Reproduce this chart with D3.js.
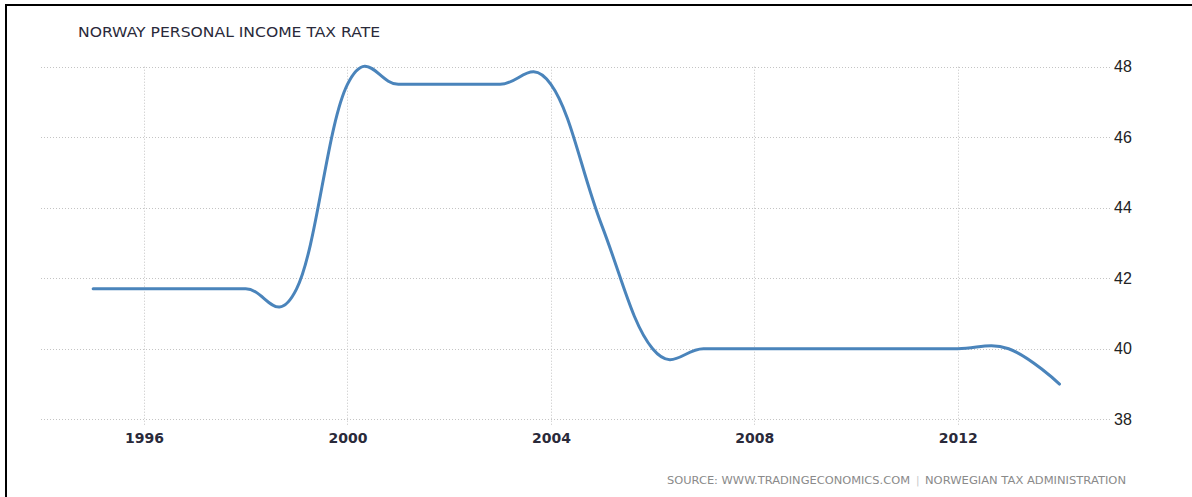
<!DOCTYPE html>
<html>
<head>
<meta charset="utf-8">
<script src="https://cdn.jsdelivr.net/npm/d3@7"></script>
<style>
  html, body { margin: 0; padding: 0; background: #fff; }
  svg { display: block; }
</style>
</head>
<body>
<svg id="chart" width="1192" height="497"></svg>
<script>
// ---- data ----
const years = [1995, 1996, 1997, 1998, 1999, 2000, 2001, 2002, 2003, 2004,
               2005, 2006, 2007, 2008, 2009, 2010, 2011, 2012, 2013, 2014];
const taxRate = [41.7, 41.7, 41.7, 41.7, 41.7, 47.5, 47.5, 47.5, 47.5, 47.5,
                 43.5, 40, 40, 40, 40, 40, 40, 40, 40, 39];
const xTickYears = [1996, 2000, 2004, 2008, 2012];
const yTickValues = [38, 40, 42, 44, 46, 48];
const titleText = "NORWAY PERSONAL INCOME TAX RATE";
const sourceText = "SOURCE: WWW.TRADINGECONOMICS.COM";
const sourceText2 = "NORWEGIAN TAX ADMINISTRATION";

// ---- Highcharts-style spline curve (smoothing 1.5) ----
function HCSpline(context) { this._context = context; }
HCSpline.prototype = {
  areaStart() {}, areaEnd() {},
  lineStart() { this._pts = []; },
  point(x, y) { this._pts.push([+x, +y]); },
  lineEnd() {
    const p = this._pts, n = p.length, c = this._context, s = 1.5, d = s + 1;
    if (!n) return;
    const ctrl = p.map((pt, i) => {
      if (i === 0 || i === n - 1) return null;
      const [lx0, ly0] = p[i - 1], [x, y] = pt, [nx, ny] = p[i + 1];
      const lcx = (s * x + lx0) / d, lcy = (s * y + ly0) / d;
      const rcx = (s * x + nx) / d, rcy = (s * y + ny) / d;
      let corr = 0;
      if (rcx !== lcx) corr = ((rcy - lcy) * (rcx - x)) / (rcx - lcx) + y - rcy;
      return { lx: lcx, ly: lcy + corr, rx: rcx, ry: rcy + corr };
    });
    c.moveTo(p[0][0], p[0][1]);
    for (let i = 1; i < n; i++) {
      const a = ctrl[i - 1], b = ctrl[i];
      c.bezierCurveTo(a ? a.rx : p[i - 1][0], a ? a.ry : p[i - 1][1],
                      b ? b.lx : p[i][0], b ? b.ly : p[i][1],
                      p[i][0], p[i][1]);
    }
  }
};
const curveHC = ctx => new HCSpline(ctx);

// ---- layout ----
const svg = d3.select("#chart");
const gridLeft = 41, gridRight = 1110;
const x = d3.scaleLinear().domain([1996, 2012]).range([144, 957.8]);
const y = d3.scaleLinear().domain([38, 48]).range([419.3, 66.7]);

// frame
svg.append("path")
  .attr("d", "M6,600V5H1300")
  .attr("fill", "none").attr("stroke", "#000").attr("stroke-width", 2);

// title
svg.append("text")
  .attr("x", 78).attr("y", 37)
  .attr("textLength", 302).attr("lengthAdjust", "spacingAndGlyphs")
  .attr("font-family", "DejaVu Sans, sans-serif")
  .attr("font-size", 13.5).attr("fill", "#2a2a3a")
  .text(titleText);

// horizontal grid
svg.append("g").selectAll("line").data(yTickValues).join("line")
  .attr("x1", gridLeft).attr("x2", gridRight)
  .attr("y1", d => Math.round(y(d)) + 0.5).attr("y2", d => Math.round(y(d)) + 0.5)
  .attr("stroke", "#c4c4c4").attr("stroke-width", 1)
  .attr("stroke-dasharray", "1,2");

// vertical grid
svg.append("g").selectAll("line").data(xTickYears).join("line")
  .attr("x1", d => Math.round(x(d)) + 0.5).attr("x2", d => Math.round(x(d)) + 0.5)
  .attr("y1", y(48)).attr("y2", 425)
  .attr("stroke", "#c4c4c4").attr("stroke-width", 1)
  .attr("stroke-dasharray", "1,2");

// y labels (right)
svg.append("g").selectAll("text").data(yTickValues).join("text")
  .attr("x", 1114).attr("y", d => y(d) + 5.5)
  .attr("font-family", "Liberation Sans, Arial, sans-serif")
  .attr("font-size", 16).attr("fill", "#222")
  .text(d => d);

// x labels
svg.append("g").selectAll("text").data(xTickYears).join("text")
  .attr("x", d => x(d) + 0.5).attr("y", 443)
  .attr("text-anchor", "middle")
  .attr("font-family", "DejaVu Sans, sans-serif")
  .attr("font-weight", "bold")
  .attr("font-size", 14).attr("fill", "#2a2a3a")
  .text(d => d);

// line
const line = d3.line()
  .x((d, i) => x(years[i]))
  .y(d => y(d))
  .curve(curveHC);
svg.append("path")
  .datum(taxRate)
  .attr("d", line)
  .attr("fill", "none")
  .attr("stroke", "#4a84bb")
  .attr("stroke-width", 3)
  .attr("stroke-linejoin", "round")
  .attr("stroke-linecap", "round");

// source
const src = svg.append("text")
  .attr("y", 484)
  .attr("font-family", "DejaVu Sans, sans-serif")
  .attr("font-size", 10.5).attr("fill", "#8a8a8a");
src.append("tspan").attr("x", 667).attr("textLength", 243)
  .attr("lengthAdjust", "spacingAndGlyphs").text(sourceText);
src.append("tspan").attr("x", 916).attr("fill", "#c8c8c8").text("|");
src.append("tspan").attr("x", 925).attr("textLength", 201)
  .attr("lengthAdjust", "spacingAndGlyphs").text(sourceText2);
</script>
</body>
</html>
